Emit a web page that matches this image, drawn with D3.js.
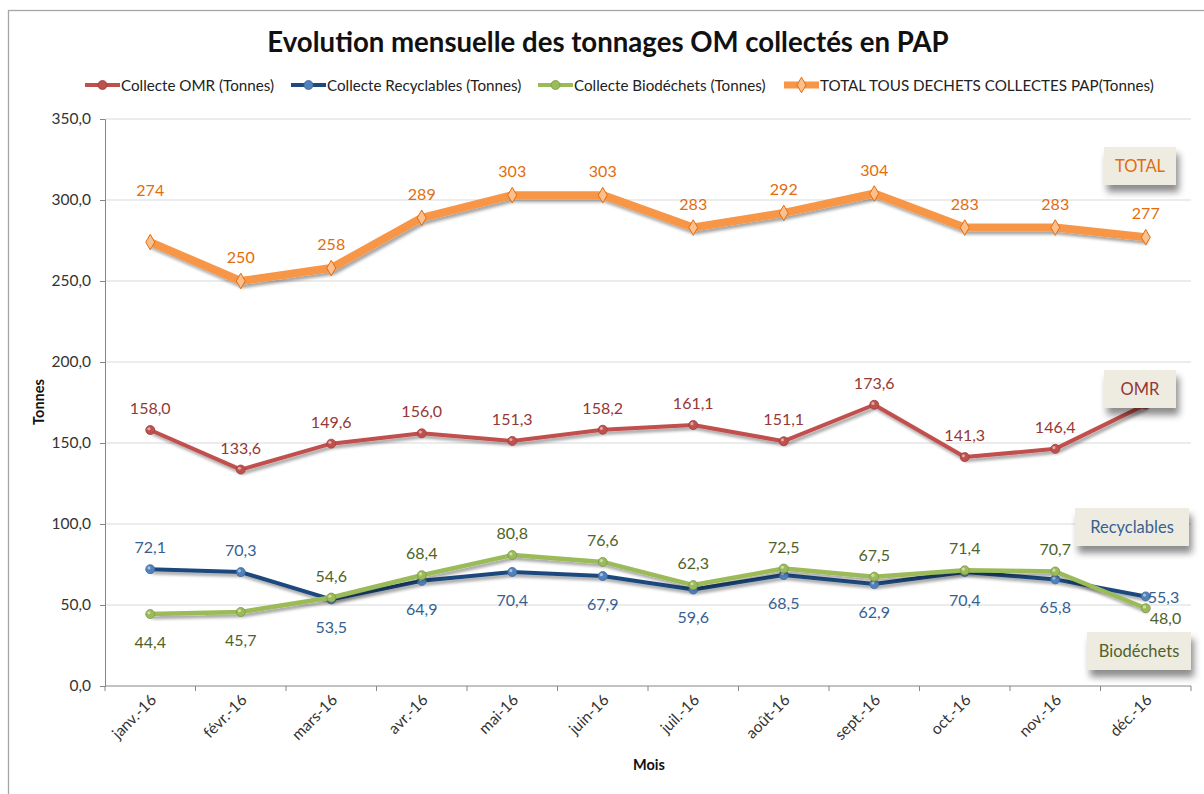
<!DOCTYPE html>
<html>
<head>
	<meta charset="utf-8" />
	<title>Evolution mensuelle des tonnages OM</title>
	<script src="https://d3js.org/d3.v7.min.js"></script>
	<style type="text/css">
		body { margin: 0; background: #fff; }
		svg text { font-family: Lato, "Open Sans", sans-serif; }
	</style>
</head>
<body>
	<script>
		const months = ["janv.-16", "févr.-16", "mars-16", "avr.-16", "mai-16", "juin-16",
			"juil.-16", "août-16", "sept.-16", "oct.-16", "nov.-16", "déc.-16"];
		const omr = [158.0, 133.6, 149.6, 156.0, 151.3, 158.2, 161.1, 151.1, 173.6, 141.3, 146.4, 173.7];
		const recyclables = [72.1, 70.3, 53.5, 64.9, 70.4, 67.9, 59.6, 68.5, 62.9, 70.4, 65.8, 55.3];
		const biodechets = [44.4, 45.7, 54.6, 68.4, 80.8, 76.6, 62.3, 72.5, 67.5, 71.4, 70.7, 48.0];
		const total = [274, 250, 258, 289, 303, 303, 283, 292, 304, 283, 283, 277];
		const yTicks = [0, 50, 100, 150, 200, 250, 300, 350];

		const width = 1204;
		const height = 794;
		const fr = d3.formatLocale({decimal: ",", thousands: " ", grouping: [3], currency: ["", " €"]});
		const f1 = fr.format(".1f");
		const f0 = fr.format(".0f");

		const svg = d3.select("body").append("svg")
			.attr("width", width)
			.attr("height", height);

		const defs = svg.append("defs");
		defs.append("filter").attr("id", "shadow")
			.attr("x", "-10%").attr("y", "-20%").attr("width", "130%").attr("height", "160%")
			.append("feDropShadow")
			.attr("dx", 2).attr("dy", 3).attr("stdDeviation", 1.6)
			.attr("flood-color", "#000").attr("flood-opacity", 0.35);
		defs.append("filter").attr("id", "boxshadow")
			.attr("x", "-20%").attr("y", "-20%").attr("width", "150%").attr("height", "190%")
			.append("feDropShadow")
			.attr("dx", 3).attr("dy", 7).attr("stdDeviation", 3.5)
			.attr("flood-color", "#000").attr("flood-opacity", 0.45);

		// outer chart frame
		svg.append("rect")
			.attr("x", 8.5).attr("y", 10.5)
			.attr("width", 1230).attr("height", 800)
			.attr("fill", "#fff").attr("stroke", "#a6a6a6").attr("stroke-width", 1.3);

		const x = d3.scalePoint().domain(months).range([105, 1191]).padding(0.5);
		const step = x.step();
		const y = d3.scaleLinear().domain([0, 350]).range([686, 119]);

		// grid
		svg.append("g").selectAll("line")
			.data(yTicks.filter(d => d > 0))
			.join("line")
			.attr("x1", 105).attr("x2", 1191)
			.attr("y1", d => y(d)).attr("y2", d => y(d))
			.attr("stroke", "#d9d9d9").attr("stroke-width", 1);

		// y axis
		const yAxis = svg.append("g")
			.attr("transform", "translate(105,0)")
			.call(d3.axisLeft(y).tickValues(yTicks).tickFormat(f1).tickSize(5).tickPadding(9));
		yAxis.select(".domain").attr("stroke", "#868686");
		yAxis.selectAll(".tick line").attr("stroke", "#868686");
		yAxis.selectAll("text").attr("font-size", 15.5).attr("fill", "#333").attr("font-family", "Lato, sans-serif");

		// x axis
		const xAxisG = svg.append("g").attr("transform", "translate(0,686)");
		xAxisG.append("line").attr("x1", 105).attr("x2", 1191).attr("stroke", "#868686");
		xAxisG.selectAll("line.tk")
			.data(d3.range(months.length + 1))
			.join("line").attr("class", "tk")
			.attr("x1", i => 105 + i * step).attr("x2", i => 105 + i * step)
			.attr("y1", 0).attr("y2", 5).attr("stroke", "#868686");
		xAxisG.selectAll("text")
			.data(months)
			.join("text")
			.attr("transform", d => `translate(${x(d) + 7},${15}) rotate(-45)`)
			.attr("text-anchor", "end")
			.attr("font-size", 15.5)
			.attr("fill", "#333")
			.text(d => d);

		// axis titles
		svg.append("text")
			.attr("x", 649).attr("y", 770)
			.attr("text-anchor", "middle")
			.attr("font-size", 14.5).attr("font-weight", "bold")
			.attr("fill", "#111")
			.text("Mois");
		svg.append("text")
			.attr("transform", "translate(44,402) rotate(-90)")
			.attr("text-anchor", "middle")
			.attr("font-size", 14.5).attr("font-weight", "bold")
			.attr("fill", "#111")
			.text("Tonnes");

		// title
		svg.append("text")
			.attr("x", 608).attr("y", 52)
			.attr("text-anchor", "middle")
			.attr("font-size", 27.6).attr("font-weight", "bold")
			.attr("fill", "#111")
			.text("Evolution mensuelle des tonnages OM collectés en PAP");

		const series = [
			{key: "omr", values: omr, line: "#c0504d", marker: "#c0504d", label: "#953735", width: 4, shape: "circle", fmt: f1},
			{key: "rec", values: recyclables, line: "#1f497d", marker: "#4f81bd", label: "#376092", width: 4, shape: "circle", fmt: f1},
			{key: "bio", values: biodechets, line: "#9bbb59", marker: "#9bbb59", label: "#4f6228", width: 4.5, shape: "circle", fmt: f1},
			{key: "tot", values: total, line: "#f79646", marker: "#f79646", label: "#e46c0a", width: 8, shape: "diamond", fmt: f0}
		];

		const line = d3.line().x((d, i) => x(months[i])).y(d => y(d));

		series.forEach(s => {
			const g = svg.append("g");
			g.append("path")
				.attr("d", line(s.values))
				.attr("fill", "none")
				.attr("stroke", s.line)
				.attr("stroke-width", s.width)
				.attr("stroke-linejoin", "round")
				.attr("filter", "url(#shadow)");
			if (s.shape === "circle") {
				g.selectAll("circle")
					.data(s.values)
					.join("circle")
					.attr("cx", (d, i) => x(months[i]))
					.attr("cy", d => y(d))
					.attr("r", 4.5)
					.attr("fill", s.marker)
					.attr("stroke", d3.color(s.marker).darker(0.6))
					.attr("stroke-width", 0.8);
				g.selectAll("circle.hl")
					.data(s.values)
					.join("circle").attr("class", "hl")
					.attr("cx", (d, i) => x(months[i]) - 1.3)
					.attr("cy", d => y(d) - 1.3)
					.attr("r", 1.6)
					.attr("fill", "#fff").attr("opacity", 0.5);
			} else {
				g.selectAll("path.mk")
					.data(s.values)
					.join("path").attr("class", "mk")
					.attr("d", d3.symbol(d3.symbolDiamond, 70))
					.attr("transform", (d, i) => `translate(${x(months[i])},${y(d)})`)
					.attr("fill", "#fac090")
					.attr("stroke", "#e46c0a")
					.attr("stroke-width", 1);
			}
		});

		// data labels ("n" = no label, hidden behind the callout in the original)
		const omrPos = ["a", "a", "a", "a", "a", "a", "a", "a", "a", "a", "a", "n"];
		const recPos = ["a", "a", "b", "b", "b", "b", "b", "b", "b", "b", "b", "r"];
		const bioPos = ["b", "b", "a", "a", "a", "a", "a", "a", "a", "a", "a", "rb"];
		const totLift = {0: 28};

		function labels(s, posFn) {
			svg.append("g").selectAll("text")
				.data(s.values.map((v, i) => ({v, i})).filter(d => posFn(d.i) !== "n"))
				.join("text")
				.attr("font-size", 16)
				.attr("fill", s.label)
				.each(function(d) {
					const i = d.i;
					const p = posFn(i);
					const px = x(months[i]);
					const py = y(d.v);
					const t = d3.select(this).text(s.fmt(d.v));
					if (p === "a") t.attr("x", px).attr("y", py - 16 - (s.key === "tot" ? (totLift[i] || 0) + 2 : 0)).attr("text-anchor", "middle");
					else if (p === "b") t.attr("x", px).attr("y", py + 34).attr("text-anchor", "middle");
					else if (p === "r") t.attr("x", px + 2).attr("y", py + 7).attr("text-anchor", "start");
					else t.attr("x", px + 4).attr("y", py + 16).attr("text-anchor", "start");
				});
		}
		labels(series[0], i => omrPos[i]);
		labels(series[1], i => recPos[i]);
		labels(series[2], i => bioPos[i]);
		labels(series[3], () => "a");

		// series callouts
		const callouts = [
			{text: "TOTAL", color: "#e46c0a", x: 1104, y: 147, w: 72, h: 38},
			{text: "OMR", color: "#953735", x: 1104, y: 370, w: 72, h: 38},
			{text: "Recyclables", color: "#376092", x: 1075, y: 508, w: 114, h: 38},
			{text: "Biodéchets", color: "#4f6228", x: 1087, y: 632, w: 104, h: 38}
		];
		const cg = svg.append("g").selectAll("g").data(callouts).join("g");
		cg.append("rect")
			.attr("x", d => d.x).attr("y", d => d.y)
			.attr("width", d => d.w).attr("height", d => d.h)
			.attr("fill", "#eeece1")
			.attr("filter", "url(#boxshadow)");
		cg.append("text")
			.attr("x", d => d.x + d.w / 2).attr("y", d => d.y + d.h / 2 + 6)
			.attr("text-anchor", "middle")
			.attr("font-size", 16.5)
			.attr("fill", d => d.color)
			.text(d => d.text);

		// legend
		const legendItems = [
			{name: "Collecte OMR (Tonnes)", s: series[0], x: 85},
			{name: "Collecte Recyclables (Tonnes)", s: series[1], x: 291},
			{name: "Collecte Biodéchets (Tonnes)", s: series[2], x: 538},
			{name: "TOTAL TOUS DECHETS COLLECTES PAP(Tonnes)", s: series[3], x: 784}
		];
		const lg = svg.append("g").selectAll("g").data(legendItems).join("g")
			.attr("transform", d => `translate(${d.x},85)`);
		lg.append("line")
			.attr("x1", 0).attr("x2", 35)
			.attr("stroke", d => d.s.line)
			.attr("stroke-width", d => d.s.key === "tot" ? 7 : 4);
		lg.filter(d => d.s.shape === "circle").append("circle")
			.attr("cx", 17.5).attr("r", 4.5)
			.attr("fill", d => d.s.marker)
			.attr("stroke", d => d3.color(d.s.marker).darker(0.6)).attr("stroke-width", 0.8);
		lg.filter(d => d.s.shape === "diamond").append("path")
			.attr("d", d3.symbol(d3.symbolDiamond, 70))
			.attr("transform", "translate(17.5,0)")
			.attr("fill", "#fac090").attr("stroke", "#e46c0a");
		lg.append("text")
			.attr("x", 36).attr("y", 5.5)
			.attr("font-size", 15.2)
			.attr("fill", "#222")
			.text(d => d.name);
	</script>
</body>
</html>
